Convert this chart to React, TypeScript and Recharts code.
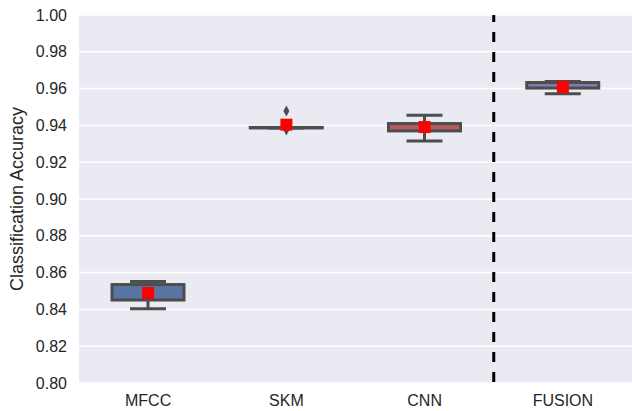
import React from "react";
import {
  ComposedChart,
  Bar,
  Scatter,
  XAxis,
  YAxis,
  CartesianGrid,
  ReferenceLine,
} from "recharts";

const categories = ["MFCC", "SKM", "CNN", "FUSION"];
const whiskerLow = [0.8404, 0.9386, 0.9315, 0.9572];
const q1 = [0.8451, 0.9386, 0.937, 0.9603];
const q3 = [0.8535, 0.9389, 0.941, 0.9633];
const whiskerHigh = [0.8551, 0.9389, 0.9455, 0.9638];
const means = [0.8489, 0.9404, 0.9391, 0.9609];
const fills = ["#5875a4", "#5f9e6e", "#b55d60", "#857aab"];

const outlierCategory = ["SKM", "SKM"];
const outlierValues = [0.9478, 0.9375];

const yTicks = [0.8, 0.82, 0.84, 0.86, 0.88, 0.9, 0.92, 0.94, 0.96, 0.98, 1.0];

const edge = "#4d4d4d";
const font = "'Liberation Sans', Arial, sans-serif";

const data = categories.map((name, i) => ({
  pos: i,
  name,
  whisker: [whiskerLow[i], whiskerHigh[i]],
  box: [q1[i], q3[i]],
  mean: means[i],
  fill: fills[i],
}));

const outliers = outlierValues.map((v, i) => ({
  pos: categories.indexOf(outlierCategory[i]),
  v,
}));

const WhiskerShape = (props: any) => {
  const { x, y, width, height } = props;
  const cx = x + width / 2;
  return (
    <g stroke={edge} strokeWidth={3} fill="none">
      <line x1={cx} x2={cx} y1={y} y2={y + height} />
      <line x1={x} x2={x + width} y1={y} y2={y} />
      <line x1={x} x2={x + width} y1={y + height} y2={y + height} />
    </g>
  );
};

const BoxShape = (props: any) => {
  const { x, y, width, height, payload } = props;
  return (
    <rect
      x={x}
      y={y}
      width={width}
      height={Math.max(height, 0.5)}
      fill={payload.fill}
      stroke={edge}
      strokeWidth={3}
    />
  );
};

const MeanShape = (props: any) => {
  const { cx, cy } = props;
  return <rect x={cx - 6} y={cy - 6} width={12} height={12} fill="#ff0000" />;
};

const DiamondShape = (props: any) => {
  const { cx, cy } = props;
  const pts = `${cx},${cy - 5.5} ${cx + 3},${cy} ${cx},${cy + 5.5} ${cx - 3},${cy}`;
  return <polygon points={pts} fill={edge} />;
};

export default function App() {
  const tick = { fill: "#262626", fontSize: 16, fontFamily: font };
  return (
    <div style={{ position: "absolute", left: 0, top: 0, background: "#fff" }}>
      <ComposedChart
        width={632}
        height={411}
        data={data}
        margin={{ top: 15, right: 0, bottom: 0, left: 0 }}
      >
        <CartesianGrid
          vertical={false}
          stroke="#ffffff"
          strokeWidth={1.5}
          fill="#EAEAF2"
          fillOpacity={1}
        />
        <XAxis
          dataKey="pos"
          type="number"
          domain={[-0.5, 3.5]}
          ticks={[0, 1, 2, 3]}
          interval={0}
          tickFormatter={(i: number) => categories[i]}
          axisLine={false}
          tickLine={false}
          tickMargin={6}
          height={28}
          tick={tick}
        />
        <XAxis xAxisId="w" dataKey="pos" type="number" domain={[-0.5, 3.5]} hide />
        <XAxis xAxisId="b" dataKey="pos" type="number" domain={[-0.5, 3.5]} hide />
        <YAxis
          type="number"
          domain={[0.8, 1.0]}
          ticks={yTicks}
          allowDataOverflow
          tickFormatter={(v: number) => v.toFixed(2)}
          axisLine={false}
          tickLine={false}
          tickMargin={6}
          width={79}
          tick={tick}
          label={{
            value: "Classification Accuracy",
            angle: -90,
            position: "insideLeft",
            offset: 17,
            style: { textAnchor: "middle", fill: "#262626", fontSize: 18, fontFamily: font },
          }}
        />
        <ReferenceLine
          x={2.5}
          stroke="#000000"
          strokeWidth={3}
          strokeDasharray="10 10"
          strokeDashoffset={-1}
        />
        <Bar
          xAxisId="w"
          dataKey="whisker"
          barSize={36}
          shape={WhiskerShape}
          isAnimationActive={false}
        />
        <Bar
          xAxisId="b"
          dataKey="box"
          barSize={72}
          shape={BoxShape}
          isAnimationActive={false}
        />
        <Scatter
          data={outliers}
          dataKey="v"
          shape={DiamondShape}
          isAnimationActive={false}
        />
        <Scatter dataKey="mean" shape={MeanShape} isAnimationActive={false} />
      </ComposedChart>
    </div>
  );
}
